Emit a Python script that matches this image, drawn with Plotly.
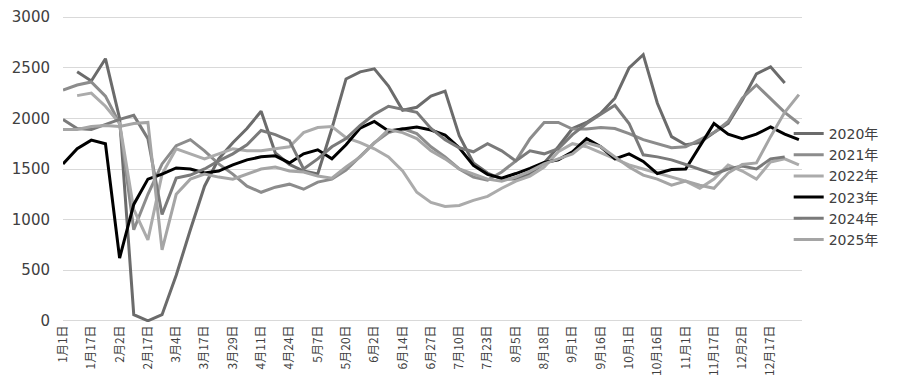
import plotly.graph_objects as go

# category positions (two points per labelled date)
x_index = list(range(53))
tick_labels = ["1月1日", "1月17日", "2月2日", "2月17日", "3月4日", "3月17日", "3月29日",
               "4月11日", "4月24日", "5月7日", "5月20日", "6月2日", "6月14日", "6月27日",
               "7月10日", "7月23日", "8月5日", "8月18日", "9月1日", "9月16日", "10月1日",
               "10月16日", "11月1日", "11月17日", "12月2日", "12月17日"]
tick_positions = x_index[::2][:len(tick_labels)]

v2020 = [None, 2460, 2370, 2590, 2000, 60, 0, 60, 450, 900, 1330, 1600, 1760, 1900, 2070,
         1660, 1545, 1480, 1450, 1900, 2390, 2460, 2490, 2320, 2080, 2110, 2220, 2270, 1830,
         1560, 1460, 1400, 1400, 1450, 1560, 1720, 1900, 1960, 2050, 2200, 2500, 2630, 2150,
         1820, 1740, 1760, 1860, 1950, 2180, 2440, 2510, 2350, None]
v2021 = [2280, 2330, 2360, 2220, 1950, 900, 1250, 1550, 1730, 1790, 1680, 1550, 1450, 1330,
         1270, 1320, 1350, 1300, 1370, 1400, 1490, 1620, 1760, 1860, 1900, 1850, 1720, 1620,
         1500, 1420, 1390, 1470, 1580, 1800, 1960, 1960, 1895, 1895, 1910, 1900, 1850, 1790,
         1750, 1710, 1720, 1790, 1860, 1970, 2200, 2330, 2190, 2060, 1950]
v2022 = [None, 2225, 2250, 2120, 1950, 1100, 800, 1450, 1700, 1650, 1600, 1650, 1700, 1680,
         1680, 1700, 1720, 1860, 1910, 1920, 1810, 1760, 1700, 1620, 1480, 1270, 1170, 1130,
         1140, 1190, 1230, 1310, 1380, 1430, 1520, 1670, 1750, 1720, 1660, 1600, 1540, 1500,
         1460, 1420, 1380, 1310, 1400, 1540, 1480, 1400, 1570, 1600, 1540]
v2023 = [1550, 1700, 1785, 1750, 620, 1150, 1400, 1450, 1510, 1500, 1460, 1480, 1540, 1590,
         1620, 1630, 1560, 1650, 1690, 1600, 1740, 1905, 1970, 1875, 1895, 1915, 1885, 1835,
         1710, 1535, 1447, 1410, 1455, 1505, 1565, 1590, 1670, 1800, 1720, 1600, 1650, 1575,
         1455, 1495, 1500, 1720, 1950, 1845, 1800, 1845, 1915, 1845, 1790]
v2024 = [1990, 1900, 1890, 1940, 1990, 2030, 1800, 1050, 1410, 1440, 1500, 1580, 1650, 1740,
         1880, 1840, 1780, 1500, 1600, 1720, 1800, 1930, 2040, 2120, 2090, 2060, 1900, 1790,
         1710, 1670, 1750, 1680, 1580, 1680, 1650, 1700, 1840, 1950, 2040, 2130, 1950, 1640,
         1620, 1590, 1545, 1500, 1450, 1500, 1530, 1500, 1600, 1620, None]
v2025 = [1890, 1890, 1920, 1930, 1920, 1950, 1960, 700, 1250, 1400, 1450, 1420, 1400, 1450,
         1500, 1520, 1480, 1470, 1430, 1410, 1520, 1620, 1760, 1890, 1860, 1800, 1680, 1600,
         1500, 1450, 1400, 1380, 1420, 1480, 1550, 1600, 1650, 1760, 1720, 1620, 1520, 1440,
         1400, 1340, 1380, 1340, 1310, 1460, 1545, 1560, 1820, 2060, 2235]

series_names = ["2020年", "2021年", "2022年", "2023年", "2024年", "2025年"]
series_values = [v2020, v2021, v2022, v2023, v2024, v2025]
series_colors = ["#6b6b6b", "#8c8c8c", "#ababab", "#000000", "#7a7a7a", "#a5a5a5"]

y_ticks = [0, 500, 1000, 1500, 2000, 2500, 3000]

fig = go.Figure()
for name, vals, col in zip(series_names, series_values, series_colors):
    fig.add_trace(go.Scatter(x=x_index, y=vals, name=name, mode="lines",
                             line=dict(color=col, width=3), connectgaps=False))

fig.update_layout(
    width=893, height=381,
    margin=dict(l=55, r=99, t=8, b=67, autoexpand=False),
    paper_bgcolor="white", plot_bgcolor="white",
    font=dict(family="DejaVu Sans, Noto Sans CJK SC", color="#404040"),
    legend=dict(x=0.982, xanchor="left", y=0.667, yanchor="top",
                bgcolor="rgba(0,0,0,0)", font=dict(size=14, color="#404040",
                family="DejaVu Sans, Noto Sans CJK SC"),
                tracegroupgap=0, itemwidth=30),
    showlegend=True,
)
fig.update_xaxes(range=[0, 52.22], tickmode="array", tickvals=tick_positions,
                 ticktext=tick_labels, tickangle=-90, showgrid=False, zeroline=False,
                 showline=False, ticks="", automargin=False,
                 tickfont=dict(size=12, color="#404040", family="Noto Sans CJK SC"))
fig.update_yaxes(range=[-12, 3012], tickmode="array", tickvals=y_ticks,
                 showgrid=True, gridcolor="#d9d9d9", gridwidth=1, zeroline=False,
                 showline=False, ticks="", ticklabelstandoff=12, automargin=False,
                 ticklabeloverflow="allow",
                 tickfont=dict(size=15, color="#404040", family="DejaVu Sans"))

fig.write_html("out.html")
